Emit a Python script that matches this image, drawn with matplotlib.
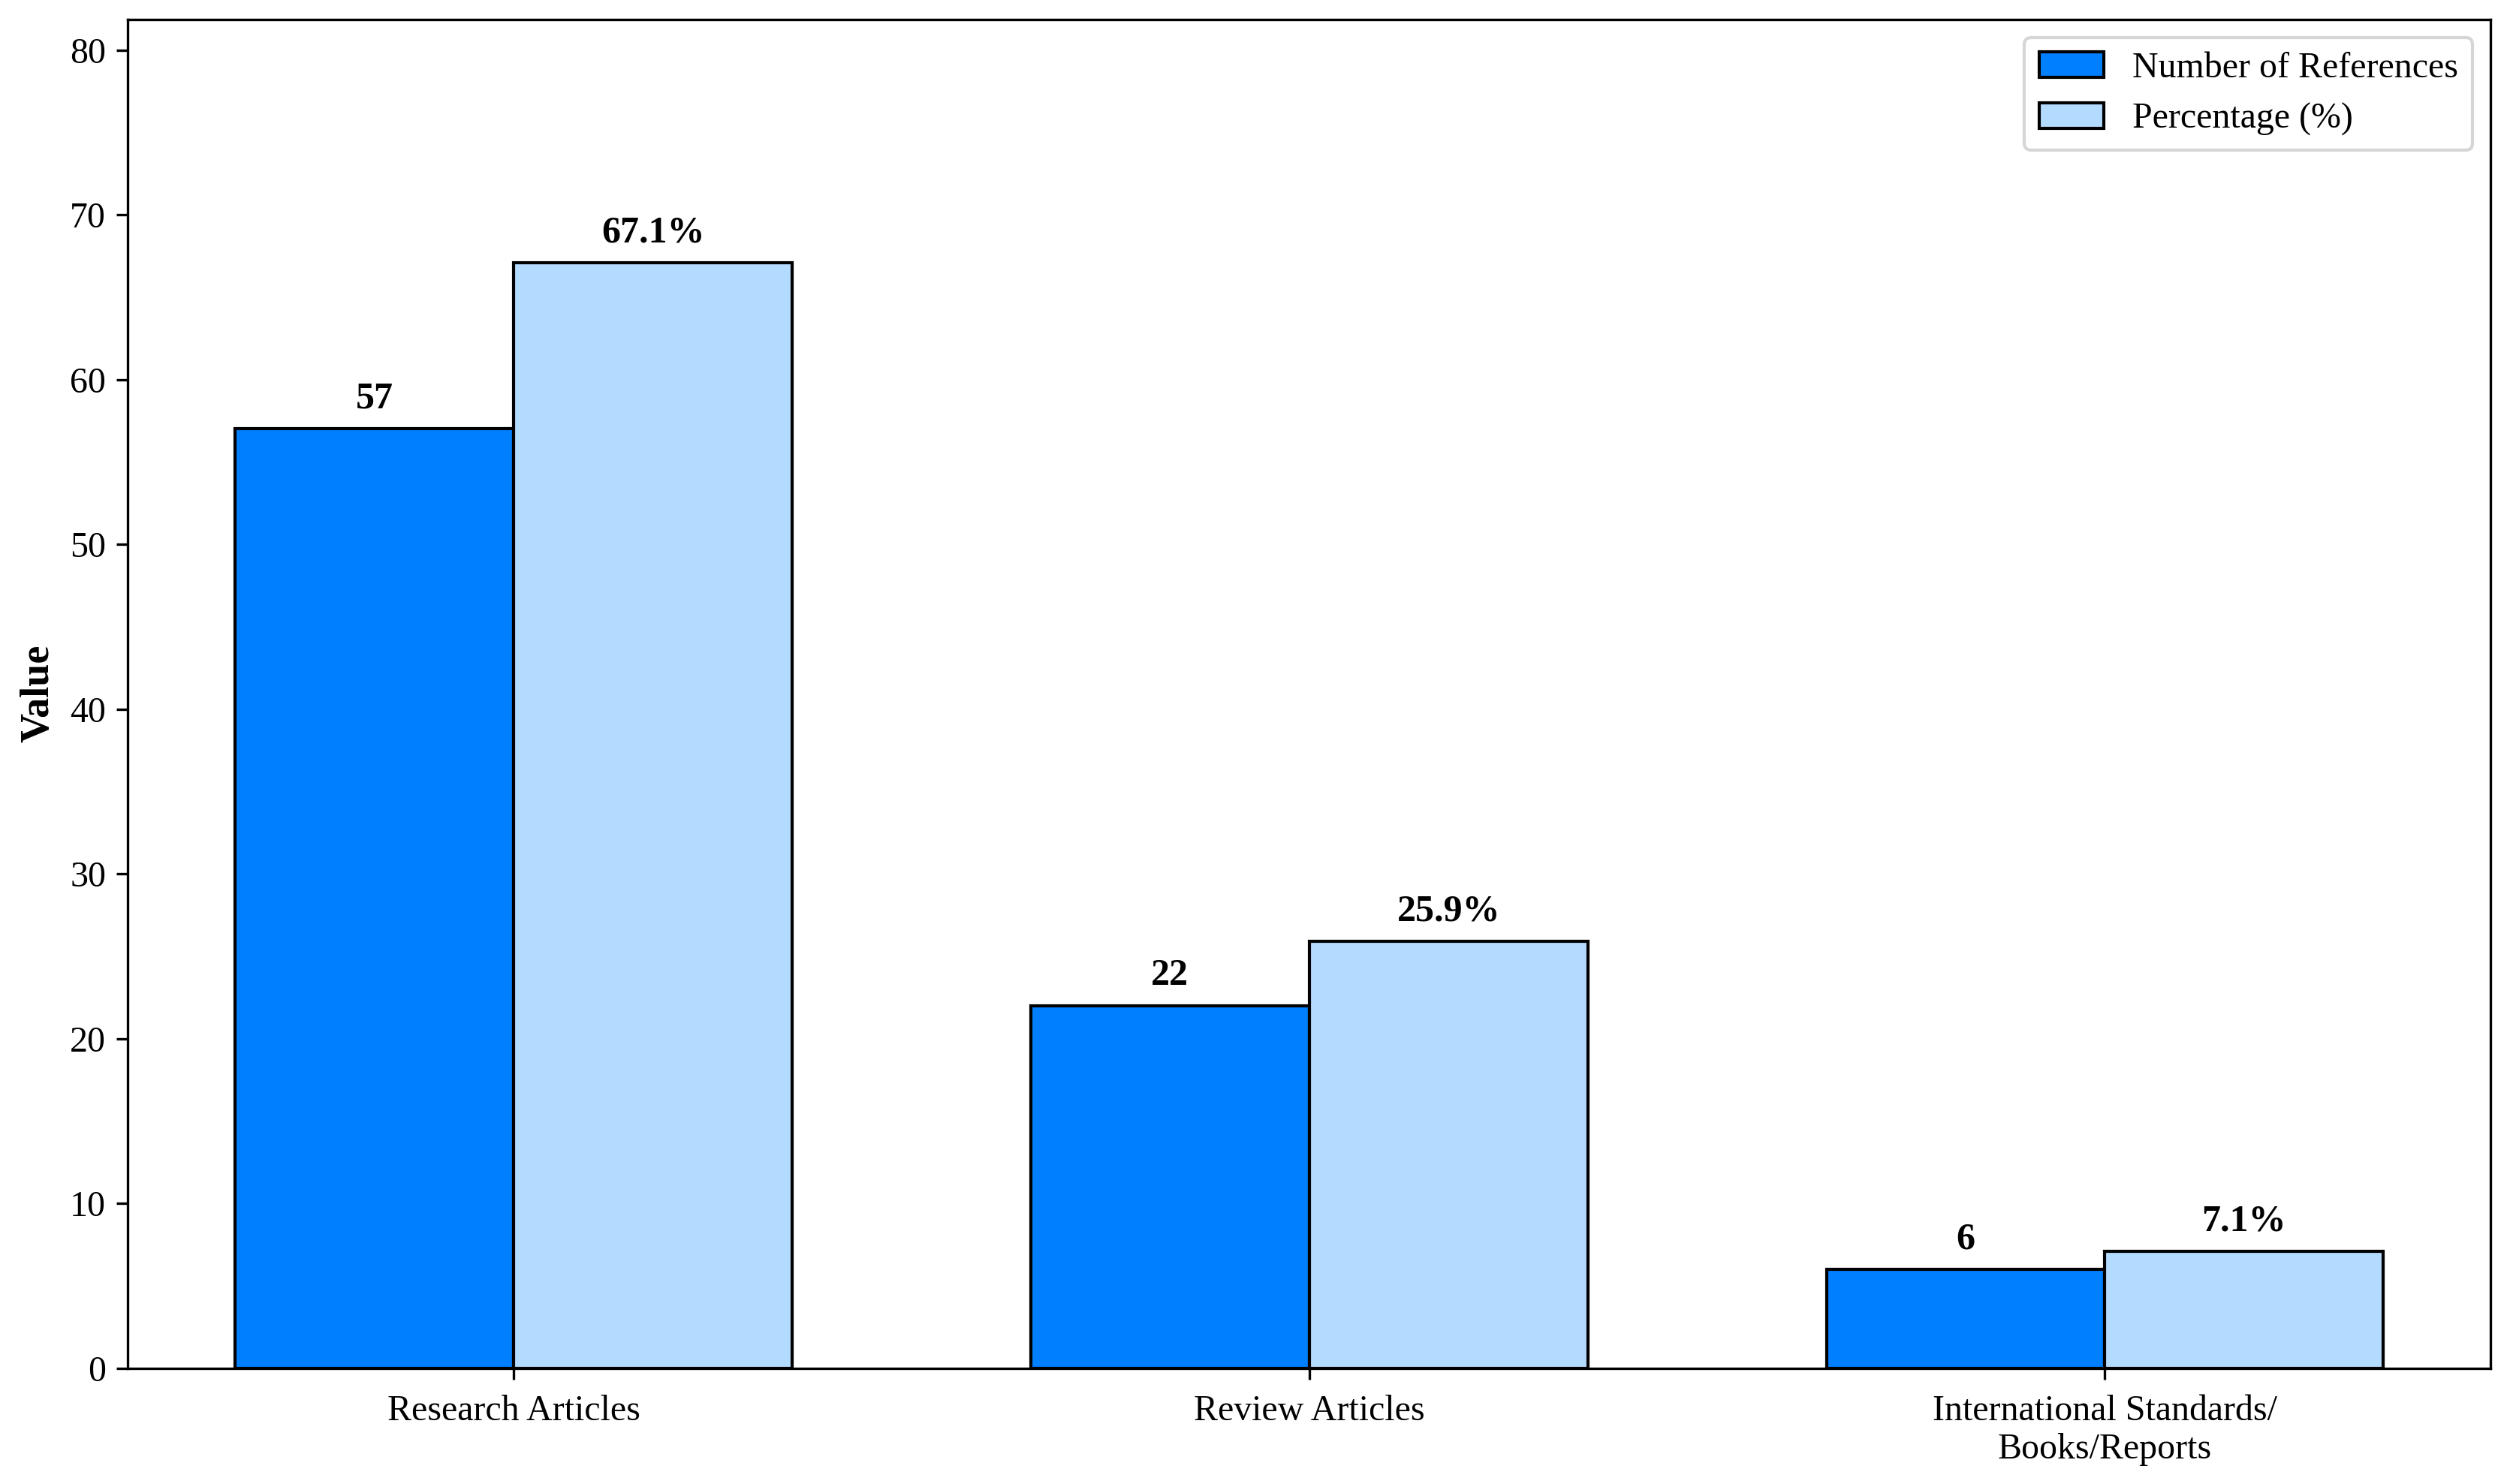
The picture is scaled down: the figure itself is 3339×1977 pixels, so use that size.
import numpy as np
import matplotlib
matplotlib.use('Agg')
import matplotlib.pyplot as plt

plt.rcParams['font.family'] = ['Liberation Serif', 'DejaVu Serif']

categories = ['Research Articles', 'Review Articles', 'International Standards/\nBooks/Reports']
counts = [57, 22, 6]
percentages = [67.1, 25.9, 7.1]

x = np.arange(len(categories))
width = 0.35

fig, ax = plt.subplots(figsize=(11.13, 6.59), dpi=300)
bars1 = ax.bar(x - width / 2, counts, width, label='Number of References',
               color='#0080FF', edgecolor='black', linewidth=1)
bars2 = ax.bar(x + width / 2, percentages, width, label='Percentage (%)',
               color='#B3DBFF', edgecolor='black', linewidth=1)

for b, v in zip(bars1, counts):
    ax.annotate(f'{v}', (b.get_x() + b.get_width() / 2, b.get_height()),
                xytext=(0, 4), textcoords='offset points', ha='center', va='bottom',
                fontsize=12, fontweight='bold')
for b, v in zip(bars2, percentages):
    ax.annotate(f'{v}%', (b.get_x() + b.get_width() / 2, b.get_height()),
                xytext=(0, 4), textcoords='offset points', ha='center', va='bottom',
                fontsize=12, fontweight='bold')

ax.set_ylim(0, max(percentages) * 1.22)
ax.set_xticks(x)
ax.set_xticklabels(categories, fontsize=11.5)
ax.tick_params(axis='x', pad=5)
ax.tick_params(axis='y', labelsize=11.5)
ax.set_ylabel('Value', fontsize=13, fontweight='bold')
ax.legend(fontsize=11.5, loc='upper right', handlelength=1.8)

plt.subplots_adjust(left=0.051, right=0.9935, top=0.987, bottom=0.078)
plt.savefig('out.png', dpi=300)
